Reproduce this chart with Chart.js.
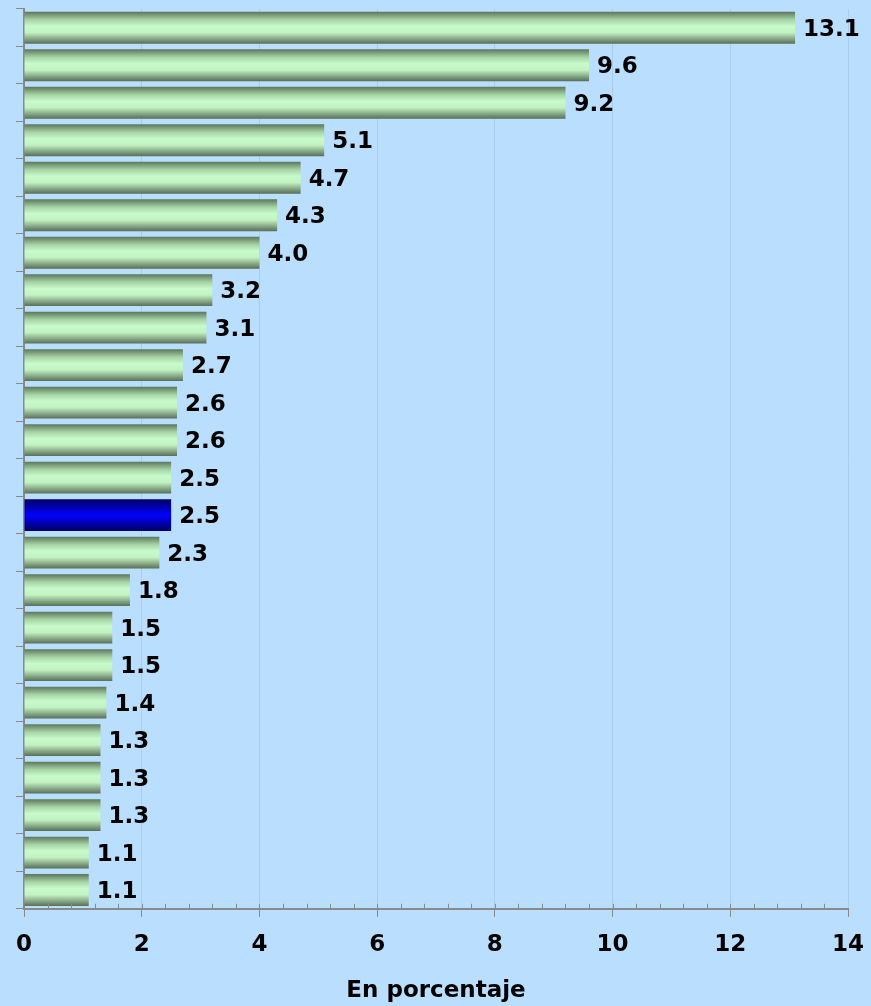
<!DOCTYPE html>
<html>
<head>
<meta charset="utf-8">
<script src="https://cdn.jsdelivr.net/npm/chart.js@4/dist/chart.umd.min.js"></script>
<style>
  html, body { margin: 0; padding: 0; background: #BADEFE; }
  #wrap { width: 871px; height: 1006px; }
</style>
</head>
<body>
<div id="wrap"><canvas id="barChart"></canvas></div>
<script>
// categories are not shown in the picture, only their slots
const categories = ['', '', '', '', '', '', '', '', '', '', '', '', '', '', '', '', '', '', '', '', '', '', '', ''];
const values = [13.1, 9.6, 9.2, 5.1, 4.7, 4.3, 4.0, 3.2, 3.1, 2.7, 2.6, 2.6, 2.5, 2.5, 2.3, 1.8, 1.5, 1.5, 1.4, 1.3, 1.3, 1.3, 1.1, 1.1];
const highlighted = [13]; // the blue bar
const xTicks = [0, 2, 4, 6, 8, 10, 12, 14];

const FONT = '"DejaVu Sans", Verdana, sans-serif';

function barGradient(context) {
    const chart = context.chart;
    const yScale = chart.scales.y;
    const i = context.dataIndex;
    const blue = highlighted.includes(i);
    if (!yScale) return blue ? '#0000cc' : '#9fd29f';
    const center = yScale.getPixelForValue(i);
    const half = yScale.height / categories.length * 0.85 / 2;
    if (!isFinite(center) || !isFinite(half) || half <= 0) return blue ? '#0000cc' : '#9fd29f';
    const g = chart.ctx.createLinearGradient(0, center - half, 0, center + half);
    if (blue) {
        g.addColorStop(0, '#000060');
        g.addColorStop(0.5, '#0000ff');
        g.addColorStop(1, '#000060');
    } else {
        g.addColorStop(0, '#5c765c');
        g.addColorStop(0.25, '#a6d4a6');
        g.addColorStop(0.45, '#c8facb');
        g.addColorStop(0.65, '#c2f2c2');
        g.addColorStop(1, '#586e58');
    }
    return g;
}

// value labels at the end of each bar
const valueLabels = {
    id: 'valueLabels',
    afterDatasetsDraw(chart) {
        const ctx = chart.ctx;
        const meta = chart.getDatasetMeta(0);
        ctx.save();
        ctx.font = 'bold 23px ' + FONT;
        ctx.fillStyle = '#000';
        ctx.textBaseline = 'middle';
        ctx.textAlign = 'left';
        meta.data.forEach((bar, i) => {
            ctx.fillText(values[i].toFixed(1), bar.x + 8, bar.y + 2);
        });
        ctx.restore();
    }
};

// small minor ticks on the value axis
const minorTicks = {
    id: 'minorTicks',
    afterDraw(chart) {
        const x = chart.scales.x;
        const ctx = chart.ctx;
        ctx.save();
        ctx.strokeStyle = '#8a8a8a';
        ctx.lineWidth = 1;
        for (let v = 0.4; v < 14; v += 0.4) {
            const px = Math.round(x.getPixelForValue(v)) + 0.5;
            ctx.beginPath();
            ctx.moveTo(px, x.top);
            ctx.lineTo(px, x.top - 5);
            ctx.stroke();
        }
        ctx.restore();
    }
};

new Chart(document.getElementById('barChart'), {
    type: 'bar',
    data: {
        labels: categories,
        datasets: [{
            data: values,
            backgroundColor: barGradient,
            borderWidth: 0,
            barPercentage: 0.85,
            categoryPercentage: 1.0
        }]
    },
    options: {
        indexAxis: 'y',
        responsive: true,
        maintainAspectRatio: false,
        animation: false,
        layout: { padding: { left: 16, right: 23, top: 9, bottom: 1 } },
        plugins: {
            legend: { display: false },
            tooltip: { enabled: false }
        },
        scales: {
            x: {
                min: 0,
                max: 14,
                afterBuildTicks: axis => { axis.ticks = xTicks.map(v => ({ value: v })); },
                afterFit: axis => { axis.paddingRight = 0; axis.paddingLeft = 0; },
                ticks: {
                    color: '#000',
                    font: { family: FONT, size: 23, weight: 'bold' },
                    padding: 14
                },
                grid: {
                    color: '#a9cdee',
                    tickColor: '#8a8a8a',
                    tickLength: 8
                },
                border: { color: '#8a8a8a', width: 2 },
                title: {
                    display: true,
                    text: 'En porcentaje',
                    color: '#000',
                    font: { family: FONT, size: 23, weight: 'bold' },
                    padding: { top: 5, bottom: 0 }
                }
            },
            y: {
                ticks: { display: false },
                grid: {
                    offset: true,
                    drawOnChartArea: false,
                    tickLength: 8,
                    tickColor: '#8a8a8a'
                },
                border: { color: '#8a8a8a', width: 2 }
            }
        }
    },
    plugins: [valueLabels, minorTicks]
});
</script>
</body>
</html>
